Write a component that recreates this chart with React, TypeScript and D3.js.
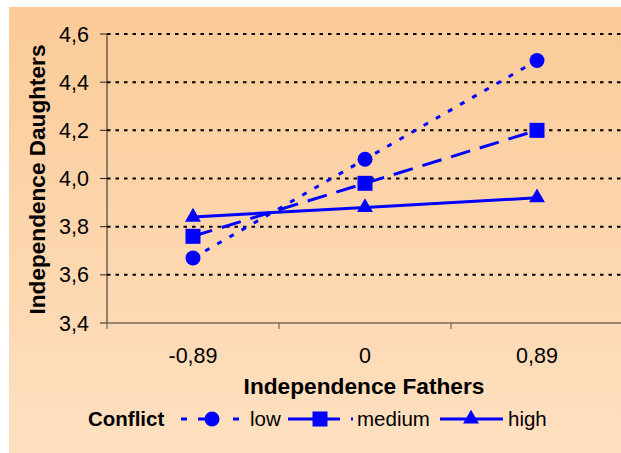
import React from "react";
import * as d3 from "d3";

const categories = ["-0,89", "0", "0,89"];
const lowValues = [3.67, 4.08, 4.49];
const mediumValues = [3.76, 3.98, 4.2];
const highValues = [3.84, 3.88, 3.92];
const yTicks = [3.4, 3.6, 3.8, 4.0, 4.2, 4.4, 4.6];
const seriesNames = ["low", "medium", "high"];

const W = 621;
const H = 453;
const plotLeft = 107;
const plotRight = 623;
const plotTop = 34;
const plotBottom = 323;
const blue = "#0000FF";
const font = "Liberation Sans, Arial, sans-serif";

export default function App() {
  const x = d3.scaleBand<string>().domain(categories).range([plotLeft, plotRight]).padding(0);
  const y = d3.scaleLinear().domain([3.4, 4.6]).range([plotBottom, plotTop]);
  const cx = (c: string) => (x(c) as number) + x.bandwidth() / 2;
  const line = d3
    .line<[number, number]>()
    .x((d) => d[0])
    .y((d) => d[1]);
  const pts = (vals: number[]) => categories.map((c, i) => [cx(c), y(vals[i])] as [number, number]);
  const fmt = (v: number) => d3.format(".1f")(v).replace(".", ",");
  const boundaries = [...categories.map((c) => x(c) as number), plotRight];

  const series = [
    { name: seriesNames[0], vals: lowValues, dash: "5,9", marker: "circle" },
    { name: seriesNames[1], vals: mediumValues, dash: "20,10", marker: "square" },
    { name: seriesNames[2], vals: highValues, dash: "none", marker: "triangle" },
  ];

  const marker = (type: string, px: number, py: number, key: string | number) => {
    if (type === "circle") return <circle key={key} cx={px} cy={py} r={7.5} fill={blue} />;
    if (type === "square") return <rect key={key} x={px - 7.5} y={py - 7.5} width={15} height={15} fill={blue} />;
    const tri = d3.symbol().type(d3.symbolTriangle).size(110)();
    return <path key={key} d={tri as string} transform={`translate(${px},${py})`} fill={blue} />;
  };

  const legendY = 419;
  const legendBase = 426;

  return (
    <svg
      width={W}
      height={H}
      style={{ position: "absolute", left: 0, top: 0, display: "block" }}
      fontFamily={font}
    >
      <defs>
        <linearGradient id="bg" x1="0" y1="0" x2="0" y2="1">
          <stop offset="0%" stopColor="#FBCB98" />
          <stop offset="100%" stopColor="#FEE0C0" />
        </linearGradient>
      </defs>
      <rect x={0} y={0} width={W} height={H} fill="#fff" />
      <rect x={9} y={7} width={W - 9} height={H - 7} fill="url(#bg)" />

      {yTicks.slice(1).map((t) => (
        <line
          key={"g" + t}
          x1={plotLeft}
          x2={plotRight}
          y1={y(t)}
          y2={y(t)}
          stroke="#000"
          strokeWidth={2}
          strokeDasharray="3.5,5"
        />
      ))}

      <line x1={plotLeft} x2={plotLeft} y1={plotTop} y2={plotBottom} stroke="#222" strokeWidth={1} />
      {yTicks.map((t) => (
        <g key={"yt" + t}>
          <line x1={plotLeft - 7} x2={plotLeft} y1={y(t)} y2={y(t)} stroke="#222" strokeWidth={1} />
          <text x={89} y={y(t) + 7.5} fontSize={21.5} textAnchor="end" fill="#000">
            {fmt(t)}
          </text>
        </g>
      ))}

      <line x1={plotLeft} x2={plotRight} y1={plotBottom} y2={plotBottom} stroke="#7a6858" strokeWidth={1.5} />
      {boundaries.map((b, i) => (
        <line key={"xt" + i} x1={b} x2={b} y1={plotBottom} y2={plotBottom + 6} stroke="#555" strokeWidth={1} />
      ))}
      {categories.map((c) => (
        <text key={"xl" + c} x={cx(c)} y={363} fontSize={21.5} textAnchor="middle" fill="#000">
          {c}
        </text>
      ))}

      <text x={364} y={394} fontSize={22.7} fontWeight="bold" textAnchor="middle" fill="#000">
        Independence Fathers
      </text>
      <text
        transform={`translate(45,${(plotTop + plotBottom) / 2 + 1}) rotate(-90)`}
        fontSize={22.6}
        fontWeight="bold"
        textAnchor="middle"
        fill="#000"
      >
        Independence Daughters
      </text>

      {series.map((s) => (
        <g key={s.name}>
          <path
            d={line(pts(s.vals)) as string}
            fill="none"
            stroke={blue}
            strokeWidth={3}
            strokeDasharray={s.dash}
          />
          {pts(s.vals).map((p, i) => marker(s.marker, p[0], p[1], s.name + i))}
        </g>
      ))}

      <text x={88} y={legendBase} fontSize={20.5} fontWeight="bold" fill="#000">
        Conflict
      </text>
      <line x1={181} x2={240} y1={legendY} y2={legendY} stroke={blue} strokeWidth={3} strokeDasharray="6,11,21,14,6,50" />
      {marker("circle", 212, legendY, "lc")}
      <text x={250} y={legendBase} fontSize={20.5} fill="#000">
        {seriesNames[0]}
      </text>
      <line x1={288} x2={354} y1={legendY} y2={legendY} stroke={blue} strokeWidth={3} strokeDasharray="52,11,2,100" />
      {marker("square", 320, legendY, "ls")}
      <text x={357} y={legendBase} fontSize={20.5} fill="#000">
        {seriesNames[1]}
      </text>
      <line x1={440} x2={503} y1={legendY} y2={legendY} stroke={blue} strokeWidth={3} />
      {marker("triangle", 471, legendY, "lt")}
      <text x={508} y={legendBase} fontSize={20.5} fill="#000">
        {seriesNames[2]}
      </text>
    </svg>
  );
}
